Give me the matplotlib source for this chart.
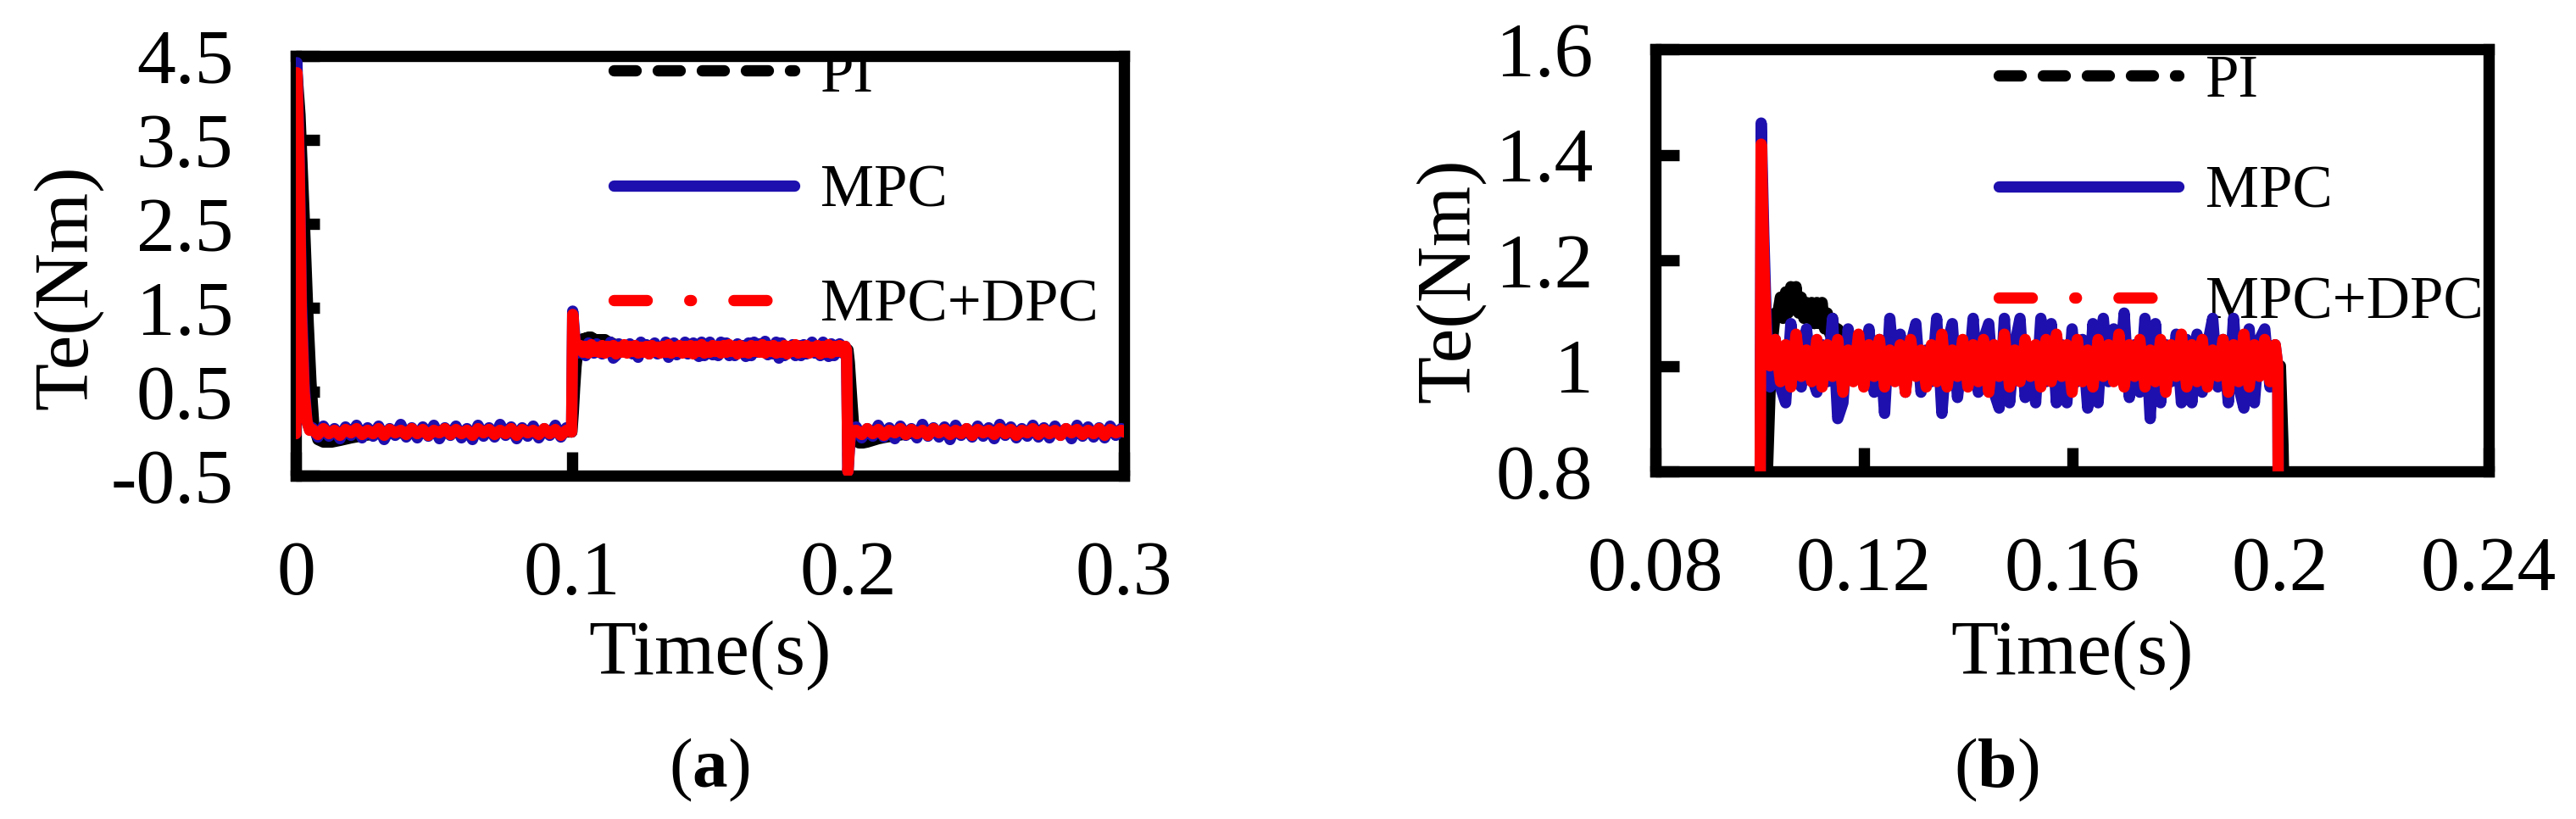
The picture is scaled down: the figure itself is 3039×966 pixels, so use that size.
import numpy as np
import matplotlib
matplotlib.use('Agg')
import matplotlib.pyplot as plt
from matplotlib.lines import Line2D

plt.rcParams['font.family'] = ['Liberation Serif', 'DejaVu Serif']
plt.rcParams['mathtext.fontset'] = 'custom'
plt.rcParams['mathtext.rm'] = 'Liberation Serif'
plt.rcParams['mathtext.bf'] = 'Liberation Serif:bold'

# ---------------- data ----------------
series_names = ['PI', 'MPC', 'MPC+DPC']

# start-up transient
t_start = [0.0, 0.0004, 0.0012, 0.002, 0.003, 0.004, 0.005]
mpc_start = [0.0, 4.42, 3.3, 1.6, 0.6, 0.15, 0.05]
dpc_start = [0.0, 4.30, 3.2, 1.4, 0.5, 0.15, 0.04]

# no-load ripple, 0.006 .. 0.098 s
t_noload1 = np.arange(0.006, 0.0985, 0.002)
mpc_noload1 = [0.07, -0.04, 0.09, -0.03, 0.06, -0.06, 0.08, -0.02, 0.10, -0.05,
               0.07, -0.03, 0.09, -0.07, 0.06, -0.02, 0.11, -0.04, 0.07, -0.05,
               0.08, -0.03, 0.10, -0.06, 0.07, -0.02, 0.09, -0.05, 0.06, -0.07,
               0.10, -0.03, 0.07, -0.04, 0.11, -0.02, 0.08, -0.06, 0.07, -0.03,
               0.09, -0.05, 0.06, -0.02, 0.10, -0.04, 0.07]
dpc_noload1 = [0.05, -0.01, 0.06, 0.00, 0.04, -0.02, 0.05, 0.01, 0.06, -0.01,
               0.04, 0.00, 0.06, -0.02, 0.05, 0.01, 0.04, -0.01, 0.06, 0.00,
               0.05, -0.02, 0.04, 0.01, 0.06, -0.01, 0.05, 0.00, 0.04, -0.02,
               0.06, 0.01, 0.05, -0.01, 0.04, 0.00, 0.06, -0.02, 0.05, 0.01,
               0.04, -0.01, 0.06, 0.00, 0.05, -0.02, 0.04]

# load step at 0.1 s
t_step = [0.0999, 0.1003, 0.1008, 0.1013, 0.102]
mpc_step = [0.02, 1.46, 1.25, 1.08, 0.96]
dpc_step = [0.02, 1.42, 1.20, 1.05, 1.00]

# loaded ripple, 0.103 .. 0.199 s
t_load = np.arange(0.103, 0.1995, 0.001)
mpc_load = [1.05, 0.96, 0.93, 1.08, 0.99, 0.96, 1.07, 0.98, 0.95, 1.04,
            0.97, 1.09, 0.90, 0.93, 1.07, 0.98, 1.03, 0.97, 1.07, 0.95,
            1.05, 0.91, 1.09, 0.98, 1.06, 0.95, 1.04, 1.08, 0.95, 1.03,
            0.97, 1.09, 0.91, 1.04, 1.08, 0.94, 1.03, 0.97, 1.09, 0.95,
            1.05, 1.08, 0.95, 0.92, 1.09, 0.93, 1.04, 1.09, 0.94, 1.03,
            0.93, 1.09, 0.97, 1.08, 0.93, 1.04, 0.93, 1.07, 0.97, 1.05,
            0.92, 1.08, 0.93, 1.09, 0.97, 1.07, 0.98, 1.10, 0.94, 1.04,
            0.95, 1.09, 0.90, 1.08, 0.93, 1.04, 0.97, 1.06, 0.93, 1.05,
            0.93, 1.06, 0.95, 1.04, 1.09, 0.96, 1.05, 0.93, 1.09, 0.96,
            0.92, 1.07, 0.93, 1.05, 1.07, 0.96, 1.04]
dpc_load = [1.05, 0.97, 1.04, 0.96, 1.06, 0.98, 1.03, 0.97, 1.05, 0.96,
            1.04, 0.98, 1.05, 0.95, 1.03, 0.97, 1.06, 0.96, 1.04, 0.98,
            1.05, 0.96, 1.03, 0.97, 1.04, 0.95, 1.05, 0.98, 1.03, 0.96,
            1.04, 0.97, 1.06, 0.96, 1.03, 0.98, 1.05, 0.96, 1.04, 0.97,
            1.05, 0.95, 1.04, 0.98, 1.06, 0.96, 1.03, 0.97, 1.05, 0.98,
            1.04, 0.96, 1.05, 0.97, 1.06, 0.98, 1.04, 0.95, 1.05, 0.97,
            1.03, 0.96, 1.05, 0.98, 1.04, 0.97, 1.06, 0.96, 1.04, 0.98,
            1.05, 0.96, 1.03, 0.97, 1.05, 0.95, 1.04, 0.98, 1.06, 0.96,
            1.04, 0.97, 1.05, 0.96, 1.03, 0.98, 1.05, 0.95, 1.04, 0.97,
            1.06, 0.96, 1.04, 0.98, 1.05, 0.97, 1.04]

# load removal at 0.2 s
t_drop = [0.1995, 0.2, 0.2007, 0.2015]
mpc_drop = [1.0, -0.45, -0.10, 0.05]
dpc_drop = [1.0, -0.45, -0.05, 0.03]

# no-load ripple, 0.203 .. 0.300 s
t_noload2 = np.append(np.arange(0.203, 0.2995, 0.002), 0.3)
mpc_noload2 = [0.08, -0.05, 0.06, -0.03, 0.10, -0.04, 0.07, -0.06, 0.09, -0.02,
               0.06, -0.05, 0.11, -0.03, 0.07, -0.04, 0.08, -0.07, 0.10, -0.02,
               0.06, -0.04, 0.09, -0.03, 0.07, -0.06, 0.11, -0.02, 0.08, -0.05,
               0.06, -0.03, 0.10, -0.04, 0.07, -0.05, 0.09, -0.02, 0.06, -0.06,
               0.10, -0.03, 0.08, -0.04, 0.07, -0.05, 0.09, -0.02, 0.06, 0.02]
dpc_noload2 = [0.04, -0.01, 0.06, 0.00, 0.05, -0.02, 0.04, 0.01, 0.06, -0.01,
               0.05, 0.00, 0.04, -0.02, 0.06, 0.01, 0.05, -0.01, 0.04, 0.00,
               0.06, -0.02, 0.05, 0.01, 0.04, -0.01, 0.06, 0.00, 0.05, -0.02,
               0.04, 0.01, 0.06, -0.01, 0.05, 0.00, 0.04, -0.02, 0.06, 0.01,
               0.05, -0.01, 0.04, 0.00, 0.06, -0.02, 0.05, 0.01, 0.04, 0.02]

# PI controller response
t_pi = [0.0, 0.0004, 0.0015, 0.003, 0.0045, 0.0055, 0.0065, 0.008, 0.010, 0.013,
        0.016, 0.020, 0.025, 0.030, 0.050, 0.070, 0.0995,
        0.1000, 0.1005, 0.1010, 0.1015, 0.1020, 0.1025, 0.1030, 0.1035, 0.1040,
        0.1045, 0.1050, 0.1055, 0.1060, 0.1065, 0.1070, 0.1075, 0.1080, 0.1085,
        0.1090, 0.1095, 0.1100, 0.1105, 0.1110, 0.1115, 0.1120, 0.1125, 0.1130,
        0.1135, 0.1140, 0.1145, 0.1150, 0.1160, 0.1170, 0.1180, 0.1190, 0.1200,
        0.1220, 0.1250, 0.1300, 0.1500, 0.1700, 0.1995,
        0.2000, 0.2005, 0.2010, 0.2015, 0.2020, 0.2025, 0.2030, 0.2040, 0.2055,
        0.2070, 0.2090, 0.2110, 0.2140, 0.2180, 0.2220, 0.2300, 0.2600, 0.3000]
te_pi = [0.0, 4.30, 3.80, 2.60, 1.30, 0.60, 0.10, -0.07, -0.10, -0.10,
         -0.08, -0.05, -0.02, 0.00, 0.02, 0.02, 0.02,
         0.02, 0.25, 0.55, 0.80, 0.95, 1.05, 1.10, 1.10, 1.13,
         1.09, 1.14, 1.10, 1.15, 1.11, 1.15, 1.10, 1.13, 1.09,
         1.12, 1.09, 1.12, 1.08, 1.12, 1.08, 1.12, 1.07, 1.10,
         1.06, 1.09, 1.05, 1.07, 1.06, 1.05, 1.04, 1.04, 1.02,
         1.01, 1.00, 1.00, 1.00, 1.00, 1.00,
         1.00, 0.85, 0.60, 0.35, 0.12, -0.02, -0.08, -0.11, -0.11,
         -0.10, -0.08, -0.06, -0.04, -0.02, 0.00, 0.02, 0.02, 0.02]

# assemble MPC and MPC+DPC traces
t_all = np.concatenate([t_start, t_noload1, t_step, t_load, t_drop, t_noload2])
te_mpc = np.concatenate([mpc_start, mpc_noload1, mpc_step, mpc_load, mpc_drop, mpc_noload2])
te_dpc = np.concatenate([dpc_start, dpc_noload1, dpc_step, dpc_load, dpc_drop, dpc_noload2])

# axis ticks
a_xticks = [0, 0.1, 0.2, 0.3]
a_xlabels = ['0', '0.1', '0.2', '0.3']
a_yticks = [-0.5, 0.5, 1.5, 2.5, 3.5, 4.5]
a_ylabels = ['-0.5', '0.5', '1.5', '2.5', '3.5', '4.5']
b_xticks = [0.08, 0.12, 0.16, 0.2, 0.24]
b_xlabels = ['0.08', '0.12', '0.16', '0.2', '0.24']
b_yticks = [0.8, 1.0, 1.2, 1.4, 1.6]
b_ylabels = ['0.8', '1', '1.2', '1.4', '1.6']

# ---------------- figure ----------------
W, H = 3039, 966
fig = plt.figure(figsize=(W / 100, H / 100), dpi=100)

LW = 9.6
BLUE = '#1e10ae'
RED = '#ff0000'
PI_DASH = (0, (1.95, 1.95))
DPC_DASH = (0, (2.93, 3.76, 0.15, 3.76))


def px_axes(x0, y0, x1, y1):
    return fig.add_axes([x0 / W, 1 - y1 / H, (x1 - x0) / W, (y1 - y0) / H])


def draw(ax, xticks, xlabels, yticks, ylabels, xlim, ylim, leg_x, leg_y, spacing):
    ax.plot(t_pi, te_pi, color='black', lw=LW, solid_joinstyle='round',
            solid_capstyle='round', zorder=11)
    ax.plot(t_all, te_mpc, color=BLUE, lw=LW, solid_capstyle='round',
            solid_joinstyle='round', zorder=12)
    ax.plot(t_all, te_dpc, color=RED, lw=LW, solid_capstyle='round',
            solid_joinstyle='round', zorder=13)
    ax.set_xlim(*xlim)
    ax.set_ylim(*ylim)
    ax.set_xticks(xticks)
    ax.set_xticklabels(xlabels)
    ax.set_yticks(yticks)
    ax.set_yticklabels(ylabels)
    ax.tick_params(direction='in', length=20, width=LW, labelsize=66,
                   top=False, right=False)
    ax.tick_params(axis='x', pad=55)
    ax.tick_params(axis='y', pad=53)
    for sp in ax.spines.values():
        sp.set_linewidth(LW)
        sp.set_capstyle('projecting')
        sp.set_zorder(10)
    handles = [
        Line2D([], [], color='black', lw=LW, ls=PI_DASH, dash_capstyle='round'),
        Line2D([], [], color=BLUE, lw=LW, solid_capstyle='round'),
        Line2D([], [], color=RED, lw=LW, ls=DPC_DASH, dash_capstyle='round'),
    ]
    leg = ax.legend(handles, series_names, loc='center left',
                    bbox_to_anchor=(leg_x, leg_y), frameon=False,
                    fontsize=51, handlelength=3.0, handletextpad=0.44,
                    labelspacing=spacing, borderpad=0, borderaxespad=0)
    leg.set_zorder(9)
    ax.set_xlabel('Time(s)', fontsize=66)
    ax.set_ylabel('Te(Nm)', fontsize=66)
    ax.xaxis.label.set_va('center')
    ax.yaxis.label.set_va('center')
    ax.yaxis.label.set_ha('center')


ax1 = px_axes(349, 66, 1326, 561)
draw(ax1, a_xticks, a_xlabels, a_yticks, a_ylabels, (0, 0.3), (-0.5, 4.5),
     0.384, 0.677, 0.99)
ax1.xaxis.set_label_coords(0.5, (561 - 773) / 495)
ax1.yaxis.set_label_coords((80 - 349) / 977, (561 - 339) / 495)

ax2 = px_axes(1953, 58, 2936, 556)
draw(ax2, b_xticks, b_xlabels, b_yticks, b_ylabels, (0.08, 0.24), (0.8, 1.6),
     0.412, 0.660, 0.93)
ax2.xaxis.set_label_coords(0.5, (556 - 773) / 498)
ax2.yaxis.set_label_coords((1711 - 1953) / 983, (556 - 331) / 498)

fig.text(837 / W, 1 - 908 / H, r'($\mathbf{a}$)', fontsize=60, ha='center', va='center')
fig.text(2355 / W, 1 - 908 / H, r'($\mathbf{b}$)', fontsize=60, ha='center', va='center')

fig.savefig('out.png', dpi=100)
